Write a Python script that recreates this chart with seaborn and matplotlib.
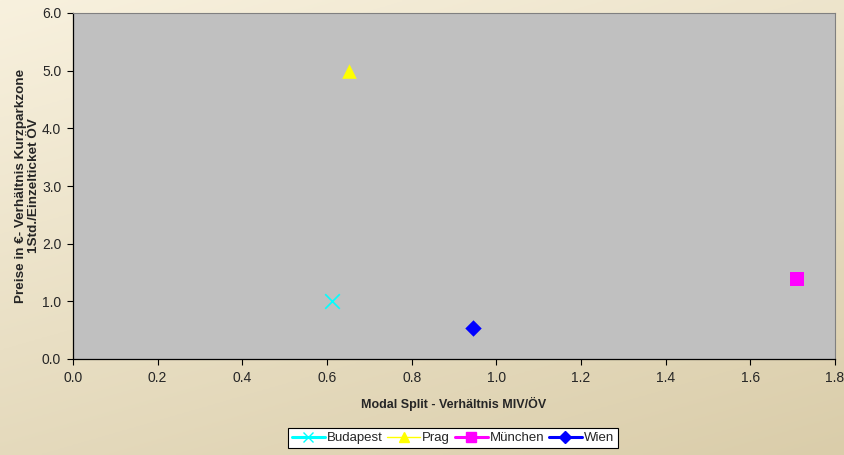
import matplotlib
matplotlib.use("Agg")
import matplotlib.pyplot as plt
from matplotlib.lines import Line2D
import seaborn as sns
import numpy as np
import pandas as pd

# data
cities = ["Budapest", "Prag", "München", "Wien"]
modal_split = [0.612, 0.652, 1.71, 0.945]
price_ratio = [1.0, 5.0, 1.38, 0.53]
colors = ["#00FFFF", "#FFFF00", "#FF00FF", "#0000FF"]
markers = ["x", "^", "s", "D"]
marker_sizes = [110, 110, 110, 70]
x_ticks = [0.0, 0.2, 0.4, 0.6, 0.8, 1.0, 1.2, 1.4, 1.6, 1.8]
y_ticks = [0.0, 1.0, 2.0, 3.0, 4.0, 5.0, 6.0]

df = pd.DataFrame({"city": cities, "x": modal_split, "y": price_ratio})

sns.set_style("ticks")
plt.rcParams["font.family"] = ["Liberation Sans", "DejaVu Sans"]

fig = plt.figure(figsize=(8.45, 4.55), dpi=100)

# beige gradient background
bg = fig.add_axes([0, 0, 1, 1], zorder=-10)
gx, gy = np.meshgrid(np.linspace(0, 1, 200), np.linspace(0, 1, 200))
t = np.clip(0.65 * gy + 0.35 * gx, 0, 1)
top = np.array([248, 241, 222]) / 255
bottom = np.array([218, 205, 170]) / 255
img = top[None, None, :] * (1 - t[..., None]) + bottom[None, None, :] * t[..., None]
bg.imshow(img, aspect="auto", extent=[0, 1, 0, 1], origin="upper")
bg.axis("off")

ax = fig.add_axes([73 / 845, 1 - 359 / 455, (835 - 73) / 845, (359 - 13) / 455])
ax.set_facecolor("#C0C0C0")

for city, c, m, s in zip(cities, colors, markers, marker_sizes):
    sub = df[df["city"] == city]
    sns.scatterplot(data=sub, x="x", y="y", color=c, marker=m, s=s,
                    linewidth=1.2 if m == "x" else 0, ax=ax, legend=False,
                    zorder=3)

ax.set_xlim(0, 1.8)
ax.set_ylim(0, 6.0)
ax.set_xticks(x_ticks)
ax.set_yticks(y_ticks)
ax.set_xticklabels([f"{v:.1f}" for v in x_ticks], fontsize=10)
ax.set_yticklabels([f"{v:.1f}" for v in y_ticks], fontsize=10)
ax.tick_params(direction="out", length=4, width=0.8, color="black", pad=4.5)

for side in ["top", "right"]:
    ax.spines[side].set_visible(True)
    ax.spines[side].set_color("#808080")
    ax.spines[side].set_linewidth(0.8)
for side in ["left", "bottom"]:
    ax.spines[side].set_color("black")
    ax.spines[side].set_linewidth(0.9)

ax.set_xlabel("Modal Split - Verhältnis MIV/ÖV", fontsize=9,
              fontweight="bold", labelpad=9)
ax.set_ylabel("Preise in €- Verhältnis Kurzparkzone\n1Std./Einzelticket ÖV",
              fontsize=9.7, fontweight="bold", labelpad=1)

handles = []
for city, c, m in zip(cities, colors, markers):
    lw = 1 if city == "Prag" else 2.2
    ms = 6 if m == "D" else 7
    handles.append(Line2D([0], [0], color=c, lw=lw, marker=m, markersize=ms,
                          markeredgecolor=c, markerfacecolor=c,
                          markeredgewidth=1.0))
leg = fig.legend(handles, cities, loc="center", bbox_to_anchor=(453 / 845, 1 - 438 / 455),
                 ncol=4, fontsize=9.5, frameon=True, fancybox=False,
                 handlelength=2.5, handletextpad=0.15, columnspacing=0.35,
                 borderpad=0.3, borderaxespad=0, edgecolor="black", framealpha=1)
leg.get_frame().set_linewidth(0.8)

fig.savefig("out.png", dpi=100)
